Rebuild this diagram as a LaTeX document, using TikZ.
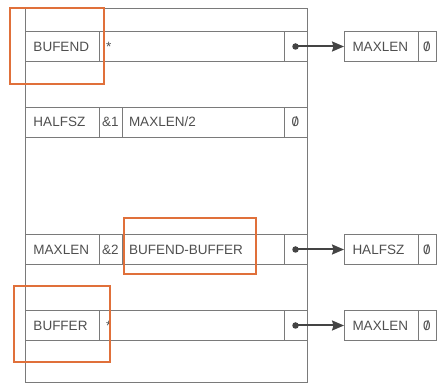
\documentclass[tikz,border=0pt]{standalone}
\usepackage{fontspec}
\setmainfont{Liberation Sans}
\usetikzlibrary{arrows.meta,positioning}
\definecolor{rulegray}{HTML}{7A7A7A}
\definecolor{ink}{HTML}{4F4F4F}
\definecolor{arrowink}{HTML}{444444}
\definecolor{hlorange}{HTML}{E0703A}
\newcommand{\slz}{\ooalign{0\cr\hfil/\hfil\cr}}
\tikzset{
  cell/.style={draw=rulegray,line width=0.8pt,minimum height=30pt,inner sep=0pt,
               outer sep=0pt,anchor=west,font=\fontsize{13.5}{15}\selectfont,text=ink},
  namecell/.style={cell,text width=57pt,inner xsep=8.5pt,align=left},
  tagcell/.style={cell,minimum width=23pt},
  fieldcell/.style={cell,text width=#1,inner xsep=7pt,align=left},
  ptrcell/.style={cell,minimum width=23pt},
  nilcell/.style={cell,minimum width=18pt},
  ptrdot/.style={circle,fill=arrowink,inner sep=0pt,minimum size=6.5pt},
  ptrarr/.style={-{Stealth[length=12pt,width=10pt,inset=1.5pt]},line width=2pt,
                 draw=arrowink},
  framebox/.style={draw=rulegray,line width=0.9pt,inner sep=0pt},
  hilite/.style={draw=hlorange,line width=1.1pt,inner sep=0pt}
}
\begin{document}
\begin{tikzpicture}[x=1pt,y=-1pt]
    \path[use as bounding box] (0,0) rectangle (440,385);

    \node[framebox,minimum width=282pt,minimum height=374pt] (frame) at (166,195) {};

    % BUFEND
    \node[namecell] (bufend) at (25,46.5) {BUFEND};
    \node[fieldcell=171pt,right=0pt of bufend] (bufendval) {\raisebox{-0.3ex}{*}};
    \node[ptrcell,right=0pt of bufendval] (bufendptr) {};
    \node[ptrdot] (bufenddot) at (bufendptr.center) {};
    \node[namecell] (maxlenA) at (344,46.5) {MAXLEN};
    \node[nilcell,right=0pt of maxlenA] (maxlenAnil) {\slz};
    \draw[ptrarr] (bufenddot.center) -- (maxlenA.west);

    % HALFSZ
    \node[namecell] (halfsz) at (25,122) {HALFSZ};
    \node[tagcell,right=0pt of halfsz] (halfsztag) {\&1};
    \node[fieldcell=148pt,right=0pt of halfsztag] (halfszval) {MAXLEN/2};
    \node[ptrcell,right=0pt of halfszval] (halfszptr) {\slz};

    % MAXLEN
    \node[namecell] (maxlen) at (25,249.5) {MAXLEN};
    \node[tagcell,right=0pt of maxlen] (maxlentag) {\&2};
    \node[fieldcell=148pt,right=0pt of maxlentag] (maxlenval) {BUFEND-BUFFER};
    \node[ptrcell,right=0pt of maxlenval] (maxlenptr) {};
    \node[ptrdot] (maxlendot) at (maxlenptr.center) {};
    \node[namecell] (halfszB) at (344,249.5) {HALFSZ};
    \node[nilcell,right=0pt of halfszB] (halfszBnil) {\slz};
    \draw[ptrarr] (maxlendot.center) -- (halfszB.west);

    % BUFFER
    \node[namecell] (buffer) at (25,325.5) {BUFFER};
    \node[fieldcell=171pt,right=0pt of buffer] (bufferval) {\raisebox{-0.3ex}{*}};
    \node[ptrcell,right=0pt of bufferval] (bufferptr) {};
    \node[ptrdot] (bufferdot) at (bufferptr.center) {};
    \node[namecell] (maxlenC) at (344,325.5) {MAXLEN};
    \node[nilcell,right=0pt of maxlenC] (maxlenCnil) {\slz};
    \draw[ptrarr] (bufferdot.center) -- (maxlenC.west);

    % highlights
    \node[hilite,minimum width=94pt,minimum height=76pt] (hlbufend) at (57,46) {};
    \node[hilite,minimum width=132pt,minimum height=56pt] (hlexpr) at (190,246) {};
    \node[hilite,minimum width=96pt,minimum height=76pt] (hlbuffer) at (62,324) {};
\end{tikzpicture}
\end{document}
